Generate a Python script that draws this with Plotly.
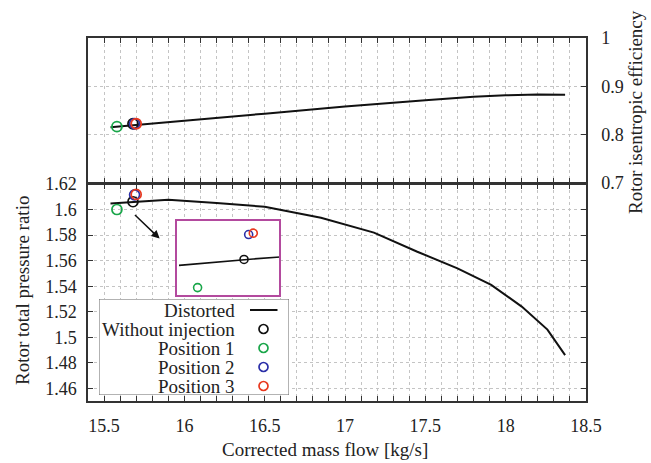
import plotly.graph_objects as go

# ---------------- data ----------------
curve_mass_flow = [15.54, 15.7, 15.9, 16.2, 16.5, 16.85, 17.18, 17.45, 17.7, 17.91, 18.1, 18.26, 18.37]
curve_pressure_ratio = [1.6049, 1.6063, 1.6078, 1.6052, 1.6023, 1.5937, 1.582, 1.567, 1.554, 1.541, 1.524, 1.506, 1.486]

eff_mass_flow = [15.54, 15.7, 16.0, 16.5, 17.0, 17.5, 17.8, 18.0, 18.2, 18.37]
eff_values = [0.815, 0.820, 0.828, 0.843, 0.858, 0.871, 0.878, 0.881, 0.883, 0.882]

point_names = ["Without injection", "Position 1", "Position 2", "Position 3"]
point_mass_flow = [15.68, 15.58, 15.69, 15.70]
point_pressure_ratio = [1.6062, 1.6001, 1.6116, 1.6119]
point_efficiency = [0.822, 0.816, 0.822, 0.822]
point_colors = ["#111111", "#1aa64a", "#2b2fa8", "#e8391f"]

x_ticks = [15.5, 16, 16.5, 17, 17.5, 18, 18.5]
pr_ticks = [1.46, 1.48, 1.5, 1.52, 1.54, 1.56, 1.58, 1.6, 1.62]
eff_ticks = [0.7, 0.8, 0.9, 1.0]
eff_tick_text = ["0.7", "0.8", "0.9", "1"]

# ---------------- layout constants ----------------
W, H = 651, 463
ML, MR, MT, MB = 88, 65, 38, 62
PW, PH = W - ML - MR, H - MT - MB
def px_x(px):
    return (px - ML) / PW
def px_y(py):
    return (H - MB - py) / PH

FONT = "Liberation Serif, Times New Roman, Times, serif"
TXT = "#222222"
GRID = "#c4c4c4"
AX = "#333333"
split = px_y(184)
split_top = split + 1.5 / PH

fig = go.Figure()

# bottom panel: pressure ratio
fig.add_trace(go.Scatter(x=curve_mass_flow, y=curve_pressure_ratio, mode="lines",
                         line=dict(color="#111111", width=2), xaxis="x", yaxis="y",
                         showlegend=False, hoverinfo="skip"))
for n, xv, yv, c in zip(point_names, point_mass_flow, point_pressure_ratio, point_colors):
    fig.add_trace(go.Scatter(x=[xv], y=[yv], mode="markers", name=n,
                             marker=dict(symbol="circle-open", size=10, color=c, line=dict(width=1.7, color=c)),
                             xaxis="x", yaxis="y", showlegend=False))

# top panel: efficiency
fig.add_trace(go.Scatter(x=eff_mass_flow, y=eff_values, mode="lines",
                         line=dict(color="#111111", width=2), xaxis="x2", yaxis="y2",
                         showlegend=False, hoverinfo="skip"))
for n, xv, yv, c in zip(point_names, point_mass_flow, point_efficiency, point_colors):
    fig.add_trace(go.Scatter(x=[xv], y=[yv], mode="markers", name=n,
                             marker=dict(symbol="circle-open", size=10, color=c, line=dict(width=1.8, color=c)),
                             xaxis="x2", yaxis="y2", showlegend=False))

# inset (zoom on the operating points)
fig.add_trace(go.Scatter(x=curve_mass_flow, y=curve_pressure_ratio, mode="lines",
                         line=dict(color="#111111", width=1.7), xaxis="x3", yaxis="y3",
                         showlegend=False, hoverinfo="skip"))
for n, xv, yv, c in zip(point_names, point_mass_flow, point_pressure_ratio, point_colors):
    fig.add_trace(go.Scatter(x=[xv], y=[yv], mode="markers", name=n,
                             marker=dict(symbol="circle-open", size=8, color=c, line=dict(width=1.6, color=c)),
                             xaxis="x3", yaxis="y3", showlegend=False))

# custom legend (symbols on the right of right-aligned labels)
LEG_X0, LEG_X1, LEG_Y0, LEG_Y1 = 99, 289, 299, 395
ROW0, ROW_STEP = 310, 19
SYM_X, LINE_X0, LINE_X1, TEXT_RIGHT = 263.5, 250, 277.5, 237
fig.add_trace(go.Scatter(x=[LINE_X0, LINE_X1], y=[ROW0, ROW0], mode="lines",
                         line=dict(color="#111111", width=2), xaxis="x4", yaxis="y4",
                         showlegend=False, hoverinfo="skip"))
for i, c in enumerate(point_colors):
    fig.add_trace(go.Scatter(x=[SYM_X], y=[ROW0 + ROW_STEP * (i + 1)], mode="markers",
                             marker=dict(symbol="circle-open", size=9, color=c, line=dict(width=1.7, color=c)),
                             xaxis="x4", yaxis="y4", showlegend=False, hoverinfo="skip"))

annotations = []
legend_labels = ["Distorted"] + point_names
for i, lab in enumerate(legend_labels):
    annotations.append(dict(text=lab, x=px_x(TEXT_RIGHT), y=px_y(ROW0 + ROW_STEP * i),
                            xref="paper", yref="paper", xanchor="right", yanchor="middle",
                            showarrow=False, font=dict(family=FONT, size=19, color=TXT)))

# axis titles
annotations.append(dict(text="Corrected mass flow [kg/s]", x=px_x(325), y=px_y(450),
                        xref="paper", yref="paper", xanchor="center", yanchor="middle",
                        showarrow=False, font=dict(family=FONT, size=19, color=TXT)))
annotations.append(dict(text="Rotor total pressure ratio", x=px_x(22), y=px_y(291),
                        xref="paper", yref="paper", xanchor="center", yanchor="middle",
                        textangle=-90, showarrow=False, font=dict(family=FONT, size=19, color=TXT)))
annotations.append(dict(text="Rotor isentropic efficiency", x=px_x(636), y=px_y(112),
                        xref="paper", yref="paper", xanchor="center", yanchor="middle",
                        textangle=-90, showarrow=False, font=dict(family=FONT, size=19, color=TXT)))

# arrow pointing to the inset
annotations.append(dict(x=15.846, y=1.5773, ax=15.683, ay=1.5969, xref="x", yref="y",
                        axref="x", ayref="y", text="", showarrow=True, arrowhead=2,
                        arrowsize=1.1, arrowwidth=1.5, arrowcolor="#111111"))

tickfont = dict(family=FONT, size=18, color=TXT)
minor_x = dict(dtick=0.1, tick0=15.4, ticks="inside", ticklen=5, tickcolor=AX,
               showgrid=True, gridcolor=GRID, griddash="dot", gridwidth=1)

fig.update_layout(
    width=W, height=H,
    margin=dict(l=ML, r=MR, t=MT, b=MB),
    paper_bgcolor="white", plot_bgcolor="white",
    showlegend=False,
    font=dict(family=FONT, color=TXT),
    annotations=annotations,
    shapes=[dict(type="rect", xref="x4", yref="y4", x0=LEG_X0, x1=LEG_X1, y0=LEG_Y0, y1=LEG_Y1,
                 fillcolor="white", line=dict(color="#666666", width=1), layer="below")],
    xaxis=dict(domain=[0, 1], anchor="y", range=[15.4, 18.5001],
               tickvals=x_ticks, ticks="inside", ticklen=5, tickcolor=AX,
               showline=True, linecolor=AX, linewidth=1.5, mirror="ticks",
               showgrid=True, gridcolor=GRID, griddash="dot", zeroline=False,
               tickfont=tickfont, ticklabelstandoff=8, minor=minor_x),
    yaxis=dict(domain=[0, split], anchor="x", range=[1.45, 1.6201],
               tickvals=pr_ticks, ticks="inside", ticklen=5, tickcolor=AX,
               showline=True, linecolor=AX, linewidth=1.5, mirror="ticks",
               showgrid=True, gridcolor=GRID, griddash="dot", zeroline=False,
               tickfont=tickfont, ticklabelstandoff=6),
    xaxis2=dict(domain=[0, 1], anchor="y2", matches="x", range=[15.4, 18.5001],
                tickvals=x_ticks, ticks="inside", ticklen=5, tickcolor=AX, showticklabels=False,
                showline=True, linecolor=AX, linewidth=1.5, mirror="ticks",
                showgrid=True, gridcolor=GRID, griddash="dot", zeroline=False, minor=minor_x),
    yaxis2=dict(domain=[split_top, 1], anchor="x2", side="right", range=[0.7, 1.0001],
                tickvals=eff_ticks, ticktext=eff_tick_text, ticks="inside", ticklen=5, tickcolor=AX,
                showline=True, linecolor=AX, linewidth=1.5, mirror=True,
                showgrid=True, gridcolor=GRID, griddash="dot", zeroline=False,
                tickfont=tickfont, ticklabelstandoff=10),
    xaxis3=dict(domain=[px_x(176.7), px_x(279.3)], anchor="y3", range=[15.535, 15.756],
                showticklabels=False, ticks="", showgrid=False, zeroline=False,
                showline=True, linecolor="#b34a9e", linewidth=1.5, mirror=True),
    yaxis3=dict(domain=[px_y(295), px_y(220.7)], anchor="x3", range=[1.5985, 1.6146],
                showticklabels=False, ticks="", showgrid=False, zeroline=False,
                showline=True, linecolor="#b34a9e", linewidth=1.5, mirror=True),
    xaxis4=dict(domain=[px_x(LEG_X0), px_x(LEG_X1)], anchor="y4", range=[LEG_X0, LEG_X1],
                visible=False, fixedrange=True),
    yaxis4=dict(domain=[px_y(LEG_Y1), px_y(LEG_Y0)], anchor="x4", range=[LEG_Y1, LEG_Y0],
                visible=False, fixedrange=True),
)

fig.write_html("out.html")
